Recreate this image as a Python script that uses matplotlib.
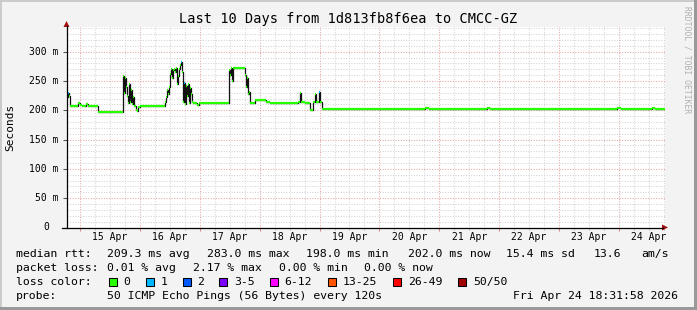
import matplotlib
matplotlib.use("Agg")
import matplotlib.pyplot as plt
from matplotlib.patches import Rectangle, Polygon
from matplotlib.lines import Line2D
from matplotlib.ticker import MultipleLocator

W, H = 697, 310

# ---------------- data ----------------
title = "Last 10 Days from 1d813fb8f6ea to CMCC-GZ"
start_day, end_day = 14.772, 24.772          # fractional day of April 2026

seg_day = [14.772, 14.791, 14.808, 14.825, 14.967, 15.000, 15.033, 15.100, 15.134, 15.300,
           15.718, 15.735, 15.751, 15.768, 15.785, 15.801, 15.818, 15.835, 15.851, 15.868,
           15.885, 15.902, 15.927, 15.943, 15.968, 15.993,
           16.419, 16.436, 16.452, 16.469, 16.486, 16.503, 16.519, 16.536, 16.553, 16.569,
           16.586, 16.603, 16.619, 16.636, 16.653, 16.669, 16.686, 16.703, 16.720, 16.736,
           16.753, 16.770, 16.786, 16.803, 16.820, 16.836, 16.853, 16.870, 16.886, 16.953,
           16.987,
           17.487, 17.504, 17.521, 17.538, 17.554, 17.755, 17.771, 17.788, 17.805, 17.821,
           17.838, 17.921, 18.105, 18.172, 18.639, 18.673, 18.689, 18.756, 18.840, 18.890,
           18.932, 18.948, 18.990, 19.007, 19.040,
           20.760, 20.826, 21.795, 21.845, 23.965, 24.032, 24.549, 24.599, 24.649, 24.666]

median_ms = [222, 230, 225, 208, 212, 209, 208, 210, 208, 197,
             258, 230, 255, 240, 225, 212, 245, 215, 235, 210,
             222, 208, 201, 198, 205, 208,
             215, 222, 235, 228, 240, 262, 270, 255, 268, 270,
             266, 272, 245, 258, 270, 278, 283, 265, 215, 246,
             210, 242, 225, 245, 212, 238, 228, 214, 212, 209,
             212,
             268, 260, 272, 250, 273, 260, 240, 255, 228, 232,
             213, 217, 214, 213, 215, 229, 214, 213, 201, 214,
             228, 214, 232, 215, 202,
             204, 202, 204, 202, 204, 202, 204, 202, 203, 202]

loss_count = [0, 1, 0, 0, 0, 0, 0, 0, 0, 0,
              0, 0, 0, 0, 0, 0, 0, 0, 0, 0,
              0, 0, 0, 0, 0, 0,
              0, 0, 0, 0, 0, 0, 0, 0, 0, 0,
              0, 0, 0, 0, 0, 0, 1, 0, 0, 1,
              0, 0, 0, 0, 0, 0, 0, 0, 0, 0,
              0,
              0, 0, 0, 0, 0, 0, 0, 0, 0, 0,
              0, 0, 0, 0, 0, 0, 0, 0, 0, 0,
              0, 0, 1, 0, 0,
              0, 0, 0, 0, 0, 0, 0, 0, 0, 0]

x_tick_days = [15, 16, 17, 18, 19, 20, 21, 22, 23, 24]
x_tick_labels = ["15 Apr", "16 Apr", "17 Apr", "18 Apr", "19 Apr",
                 "20 Apr", "21 Apr", "22 Apr", "23 Apr", "24 Apr"]
y_tick_vals = [0, 50, 100, 150, 200, 250, 300]
y_tick_labels = ["0", "50 m", "100 m", "150 m", "200 m", "250 m", "300 m"]
y_max = 343

loss_bins = [0, 1, 2, 3, 6, 13, 26, 50]
loss_labels = ["0", "1", "2", "3-5", "6-12", "13-25", "26-49", "50/50"]
loss_colors = ["#26ff00", "#00b8ff", "#0059ff", "#7e00ff",
               "#ff00ff", "#ff5500", "#ff0000", "#a10000"]

rtt_stats = ["209.3 ms avg", "283.0 ms max", "198.0 ms min", "202.0 ms now",
             "15.4 ms sd", "13.6", "am/s"]
loss_stats = ["0.01 % avg", "2.17 % max", "0.00 % min", "0.00 % now"]
probe_text = "50 ICMP Echo Pings (56 Bytes) every 120s"
stamp_text = "Fri Apr 24 18:31:58 2026"

# ---------------- layout helpers ----------------
MONO = "DejaVu Sans Mono"


def fx(x):
    return x / W


def fy(y):
    return 1 - y / H


fig = plt.figure(figsize=(W / 100, H / 100), dpi=100, facecolor="#f3f3f3")

# frame shading
fig.patches.append(Rectangle((0, fy(2)), 1, 2 / H, transform=fig.transFigure,
                             facecolor="#cbcbcb", edgecolor="none"))
fig.patches.append(Rectangle((0, 0), 2 / W, 1, transform=fig.transFigure,
                             facecolor="#cbcbcb", edgecolor="none"))
fig.patches.append(Rectangle((0, 0), 1, 3 / H, transform=fig.transFigure,
                             facecolor="#999999", edgecolor="none"))
fig.patches.append(Rectangle((fx(694), 0), 3 / W, 1, transform=fig.transFigure,
                             facecolor="#999999", edgecolor="none"))

ax_l, ax_r, ax_b, ax_t = 66.5, 665, 227.5, 26.5
ax = fig.add_axes([fx(ax_l), fy(ax_b), fx(ax_r) - fx(ax_l), fy(ax_t) - fy(ax_b)])
ax.set_facecolor("white")
ax.set_xlim(start_day, end_day)
ax.set_ylim(0, y_max)
for s in ax.spines.values():
    s.set_visible(False)

ax.xaxis.set_major_locator(MultipleLocator(1))
ax.xaxis.set_minor_locator(MultipleLocator(0.25))
ax.yaxis.set_major_locator(MultipleLocator(50))
ax.yaxis.set_minor_locator(MultipleLocator(10))
ax.grid(which="minor", color="#d4d4d4", linestyle=(0, (1, 1.5)), linewidth=0.75)
ax.grid(which="major", color="#e7a3a3", linestyle=(0, (1, 1.5)), linewidth=0.75)
ax.set_axisbelow(True)
ax.tick_params(axis="both", which="both", labelbottom=False, labelleft=False)
ax.tick_params(axis="x", which="major", direction="out", length=2.2, width=0.75,
               color="#e08080")
ax.tick_params(axis="x", which="minor", direction="out", length=1.2, width=0.75,
               color="#bbbbbb")
ax.tick_params(axis="y", which="major", direction="out", length=3, width=0.75,
               color="#555555")
ax.tick_params(axis="y", which="minor", length=0)

# median line: black vertical transitions, loss-coloured horizontal parts
xs = seg_day + [end_day]
ys = median_ms + [median_ms[-1]]
ax.step(xs, ys, where="post", color="#111111", linewidth=0.9, zorder=3)


def loss_color(n):
    idx = 0
    for i, b in enumerate(loss_bins):
        if n >= b:
            idx = i
    return loss_colors[idx]


ax.hlines(median_ms, seg_day, seg_day[1:] + [end_day],
          colors=[loss_color(n) for n in loss_count], linewidth=1.6, zorder=4)

# axis lines and arrows
fig.add_artist(Line2D([fx(62), fx(663)], [fy(227.5), fy(227.5)],
                      transform=fig.transFigure, color="black", linewidth=0.9))
fig.add_artist(Line2D([fx(66.5), fx(66.5)], [fy(228), fy(26)],
                      transform=fig.transFigure, color="black", linewidth=0.9))
fig.patches.append(Polygon([(fx(662), fy(224.5)), (fx(668), fy(227.5)), (fx(662), fy(230.5))],
                           closed=True, transform=fig.transFigure,
                           facecolor="#a01010", edgecolor="none"))
fig.patches.append(Polygon([(fx(63.5), fy(27)), (fx(66.5), fy(21)), (fx(69.5), fy(27))],
                           closed=True, transform=fig.transFigure,
                           facecolor="#a01010", edgecolor="none"))

# tick labels
for d, lab in zip(x_tick_days, x_tick_labels):
    ax.text(d + 0.5, -0.048, lab, transform=ax.get_xaxis_transform(),
            ha="center", va="center", fontsize=7, family=MONO)

for v, lab in zip(y_tick_vals, y_tick_labels):
    if lab == "0":
        fig.text(fx(46.5), fy(ax_b - v * (ax_b - ax_t) / y_max), lab,
                 ha="center", va="center", fontsize=7, family=MONO)
    else:
        fig.text(fx(58.5), fy(ax_b - v * (ax_b - ax_t) / y_max), lab,
                 ha="right", va="center", fontsize=7, family=MONO)

# title / axis label / watermark
fig.text(fx(348.5), fy(19), title, ha="center", va="center", fontsize=9.8, family=MONO)
fig.text(fx(10.5), fy(127), "Seconds", rotation=90, ha="center", va="center",
         fontsize=8, family=MONO)
fig.text(fx(687), fy(60), "RRDTOOL / TOBI OETIKER", rotation=270, ha="center",
         va="center", fontsize=5.8, family=MONO, color="#b0b0b0")

# legend block
LF = 8.25
fig.text(fx(16), fy(254.3), "median rtt:", ha="left", va="center", fontsize=LF, family=MONO)
for x, s in zip([107.3, 207.3, 306.5, 407.7, 505.7, 593.3, 641.7], rtt_stats):
    fig.text(fx(x), fy(254.3), s, ha="left", va="center", fontsize=LF, family=MONO)

fig.text(fx(16), fy(268.3), "packet loss:", ha="left", va="center", fontsize=LF, family=MONO)
for x, s in zip([107.3, 193.3, 279.0, 364.0], loss_stats):
    fig.text(fx(x), fy(268.3), s, ha="left", va="center", fontsize=LF, family=MONO)

fig.text(fx(16), fy(282.3), "loss color:", ha="left", va="center", fontsize=LF, family=MONO)
box_x = [108.7, 145.7, 182.7, 219.3, 270.0, 328.3, 393.3, 458.3]
for bx, lab, col in zip(box_x, loss_labels, loss_colors):
    fig.patches.append(Rectangle((fx(bx), fy(286.3)), 8 / W, 8 / H, transform=fig.transFigure,
                                 facecolor=col, edgecolor="black", linewidth=0.75))
    fig.text(fx(bx + 14.7), fy(282.3), lab, ha="left", va="center", fontsize=LF, family=MONO)

fig.text(fx(16), fy(296), "probe:", ha="left", va="center", fontsize=LF, family=MONO)
fig.text(fx(107.3), fy(296), probe_text, ha="left", va="center", fontsize=LF, family=MONO)
fig.text(fx(513.3), fy(296), stamp_text, ha="left", va="center", fontsize=LF, family=MONO)

fig.savefig("out.png", dpi=100, facecolor=fig.get_facecolor())
